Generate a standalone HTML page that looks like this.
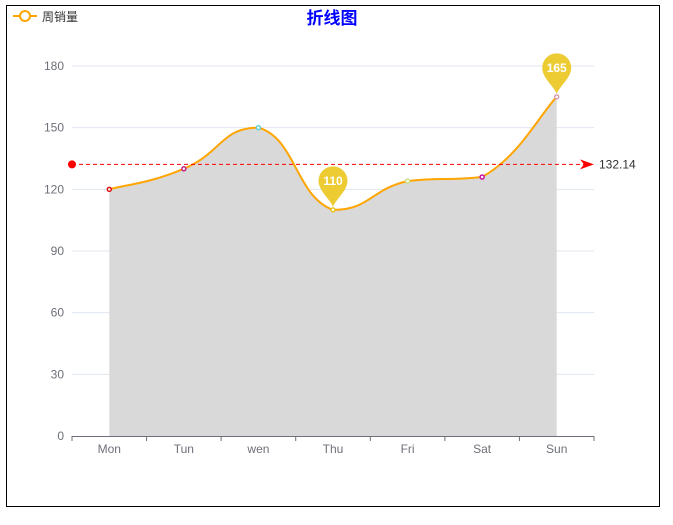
<!DOCTYPE html>
<html><head><meta charset="utf-8"><style>
body{margin:0;background:#fff;}
#wrap{position:relative;width:673px;height:525px;}
svg{position:absolute;left:0;top:0;font-family:"Liberation Sans","Noto Sans CJK SC",sans-serif;}
</style></head><body>
<div id="wrap">
<svg id="chart" width="673" height="525">
<rect x="6.5" y="5.5" width="653" height="501" fill="none" stroke="#000"/>
<text x="332" y="24" text-anchor="middle" font-size="17" font-weight="bold" fill="#0000ff">折线图</text>
<g>
<line x1="13" y1="16" x2="37" y2="16" stroke="#ffa500" stroke-width="2"/>
<circle cx="25" cy="16" r="5" fill="#fff" stroke="#ffa500" stroke-width="2"/>
<text x="42" y="21" font-size="12" fill="#333">周销量</text>
</g>
</svg>
</div>
<script>
const categories=["Mon","Tun","wen","Thu","Fri","Sat","Sun"];
const values=[120,130,150,110,124,126,165];
const pointColors=["#e01010","#c02080","#60d0d0","#e8c020","#c8e080","#d010a0","#d8a0b0"];
const yTicks=[0,30,60,90,120,150,180];
const avgValue=values.reduce((a,b)=>a+b,0)/values.length;
const NS="http://www.w3.org/2000/svg";
const svg=document.getElementById('chart');
const L=72,R=594,T=66,B=436,yMax=180;
const band=(R-L)/categories.length;
const x=i=>L+band*(i+0.5);
const y=v=>B-(v/yMax)*(B-T);
function mk(tag,attrs,parent){const e=document.createElementNS(NS,tag);for(const k in attrs)e.setAttribute(k,attrs[k]);(parent||svg).appendChild(e);return e;}
yTicks.forEach(t=>{
  if(t>0){const g=mk('line',{x1:L,x2:R,y1:y(t),y2:y(t),stroke:'#e0e6f1'});
  
  }
  const tx=mk('text',{x:L-8,y:y(t)+4,'text-anchor':'end','font-size':12,fill:'#6e7079'});tx.textContent=t;
  
  
});
const pts=values.map((v,i)=>[x(i),y(v)]);
let d=`M${pts[0][0]},${pts[0][1]}`;
const s=0.25;
const clamp=(v,a,b)=>Math.min(Math.max(v,Math.min(a,b)),Math.max(a,b));
for(let i=0;i<pts.length-1;i++){
  const p0=pts[Math.max(0,i-1)],p1=pts[i],p2=pts[i+1],p3=pts[Math.min(pts.length-1,i+2)];
  let c1=[p1[0]+(p2[0]-p0[0])*s,p1[1]+(p2[1]-p0[1])*s];
  let c2=[p2[0]-(p3[0]-p1[0])*s,p2[1]-(p3[1]-p1[1])*s];
  c1[1]=clamp(c1[1],p1[1],p2[1]);c2[1]=clamp(c2[1],p1[1],p2[1]);
  d+=` C${c1[0]},${c1[1]} ${c2[0]},${c2[1]} ${p2[0]},${p2[1]}`;
}
const area=mk('path',{d:d+` L${pts[pts.length-1][0]},${B} L${pts[0][0]},${B} Z`,fill:'#d9d9d9'});


const line=mk('path',{d:d,fill:'none',stroke:'#ffa500','stroke-width':2});


const ax=mk('line',{x1:L,x2:R,y1:B+0.5,y2:B+0.5,stroke:'#6e7079'});


categories.forEach((c,i)=>{
  const tk=mk('line',{x1:L+band*i,x2:L+band*i,y1:B,y2:B+5,stroke:'#6e7079'});
  
  
  const t=mk('text',{x:x(i),y:B+17,'text-anchor':'middle','font-size':12,fill:'#6e7079'});t.textContent=c;
  
  
});
const tkE=mk('line',{x1:R,x2:R,y1:B,y2:B+5,stroke:'#6e7079'});


const ay=y(avgValue);
const al=mk('line',{x1:L,x2:R-8,y1:ay,y2:ay,stroke:'#ff0000','stroke-dasharray':'4,3'});


const ac=mk('circle',{cx:L,cy:ay,r:4,fill:'#ff0000'});


const ar=mk('path',{d:`M${R-14},${ay-5} L${R},${ay} L${R-14},${ay+5} L${R-10},${ay} Z`,fill:'#ff0000'});


const at=mk('text',{x:R+5,y:ay+4,'font-size':12,fill:'#333'});at.textContent=avgValue.toFixed(2);


pts.forEach((p,i)=>{
  const c=mk('circle',{cx:p[0],cy:p[1],r:2,fill:'#fff',stroke:pointColors[i],'stroke-width':1.5});
  
  
});
const maxI=values.indexOf(Math.max(...values)),minI=values.indexOf(Math.min(...values));
[maxI,minI].forEach(i=>{
  const px=pts[i][0],py=pts[i][1]-3,cy=py-26,r=14.5;
  const g=mk('g',{});
  
  
  mk('path',{d:`M${px},${py} C${px-3},${cy+18} ${px-r},${cy+10} ${px-r},${cy} A${r},${r} 0 1 1 ${px+r},${cy} C${px+r},${cy+10} ${px+3},${cy+18} ${px},${py} Z`,fill:'#eccb33'},g);
  const t=mk('text',{x:px,y:cy+4,'text-anchor':'middle','font-size':12,'font-weight':'bold',fill:'#fff'},g);t.textContent=values[i];
});
</script>
</body></html>
